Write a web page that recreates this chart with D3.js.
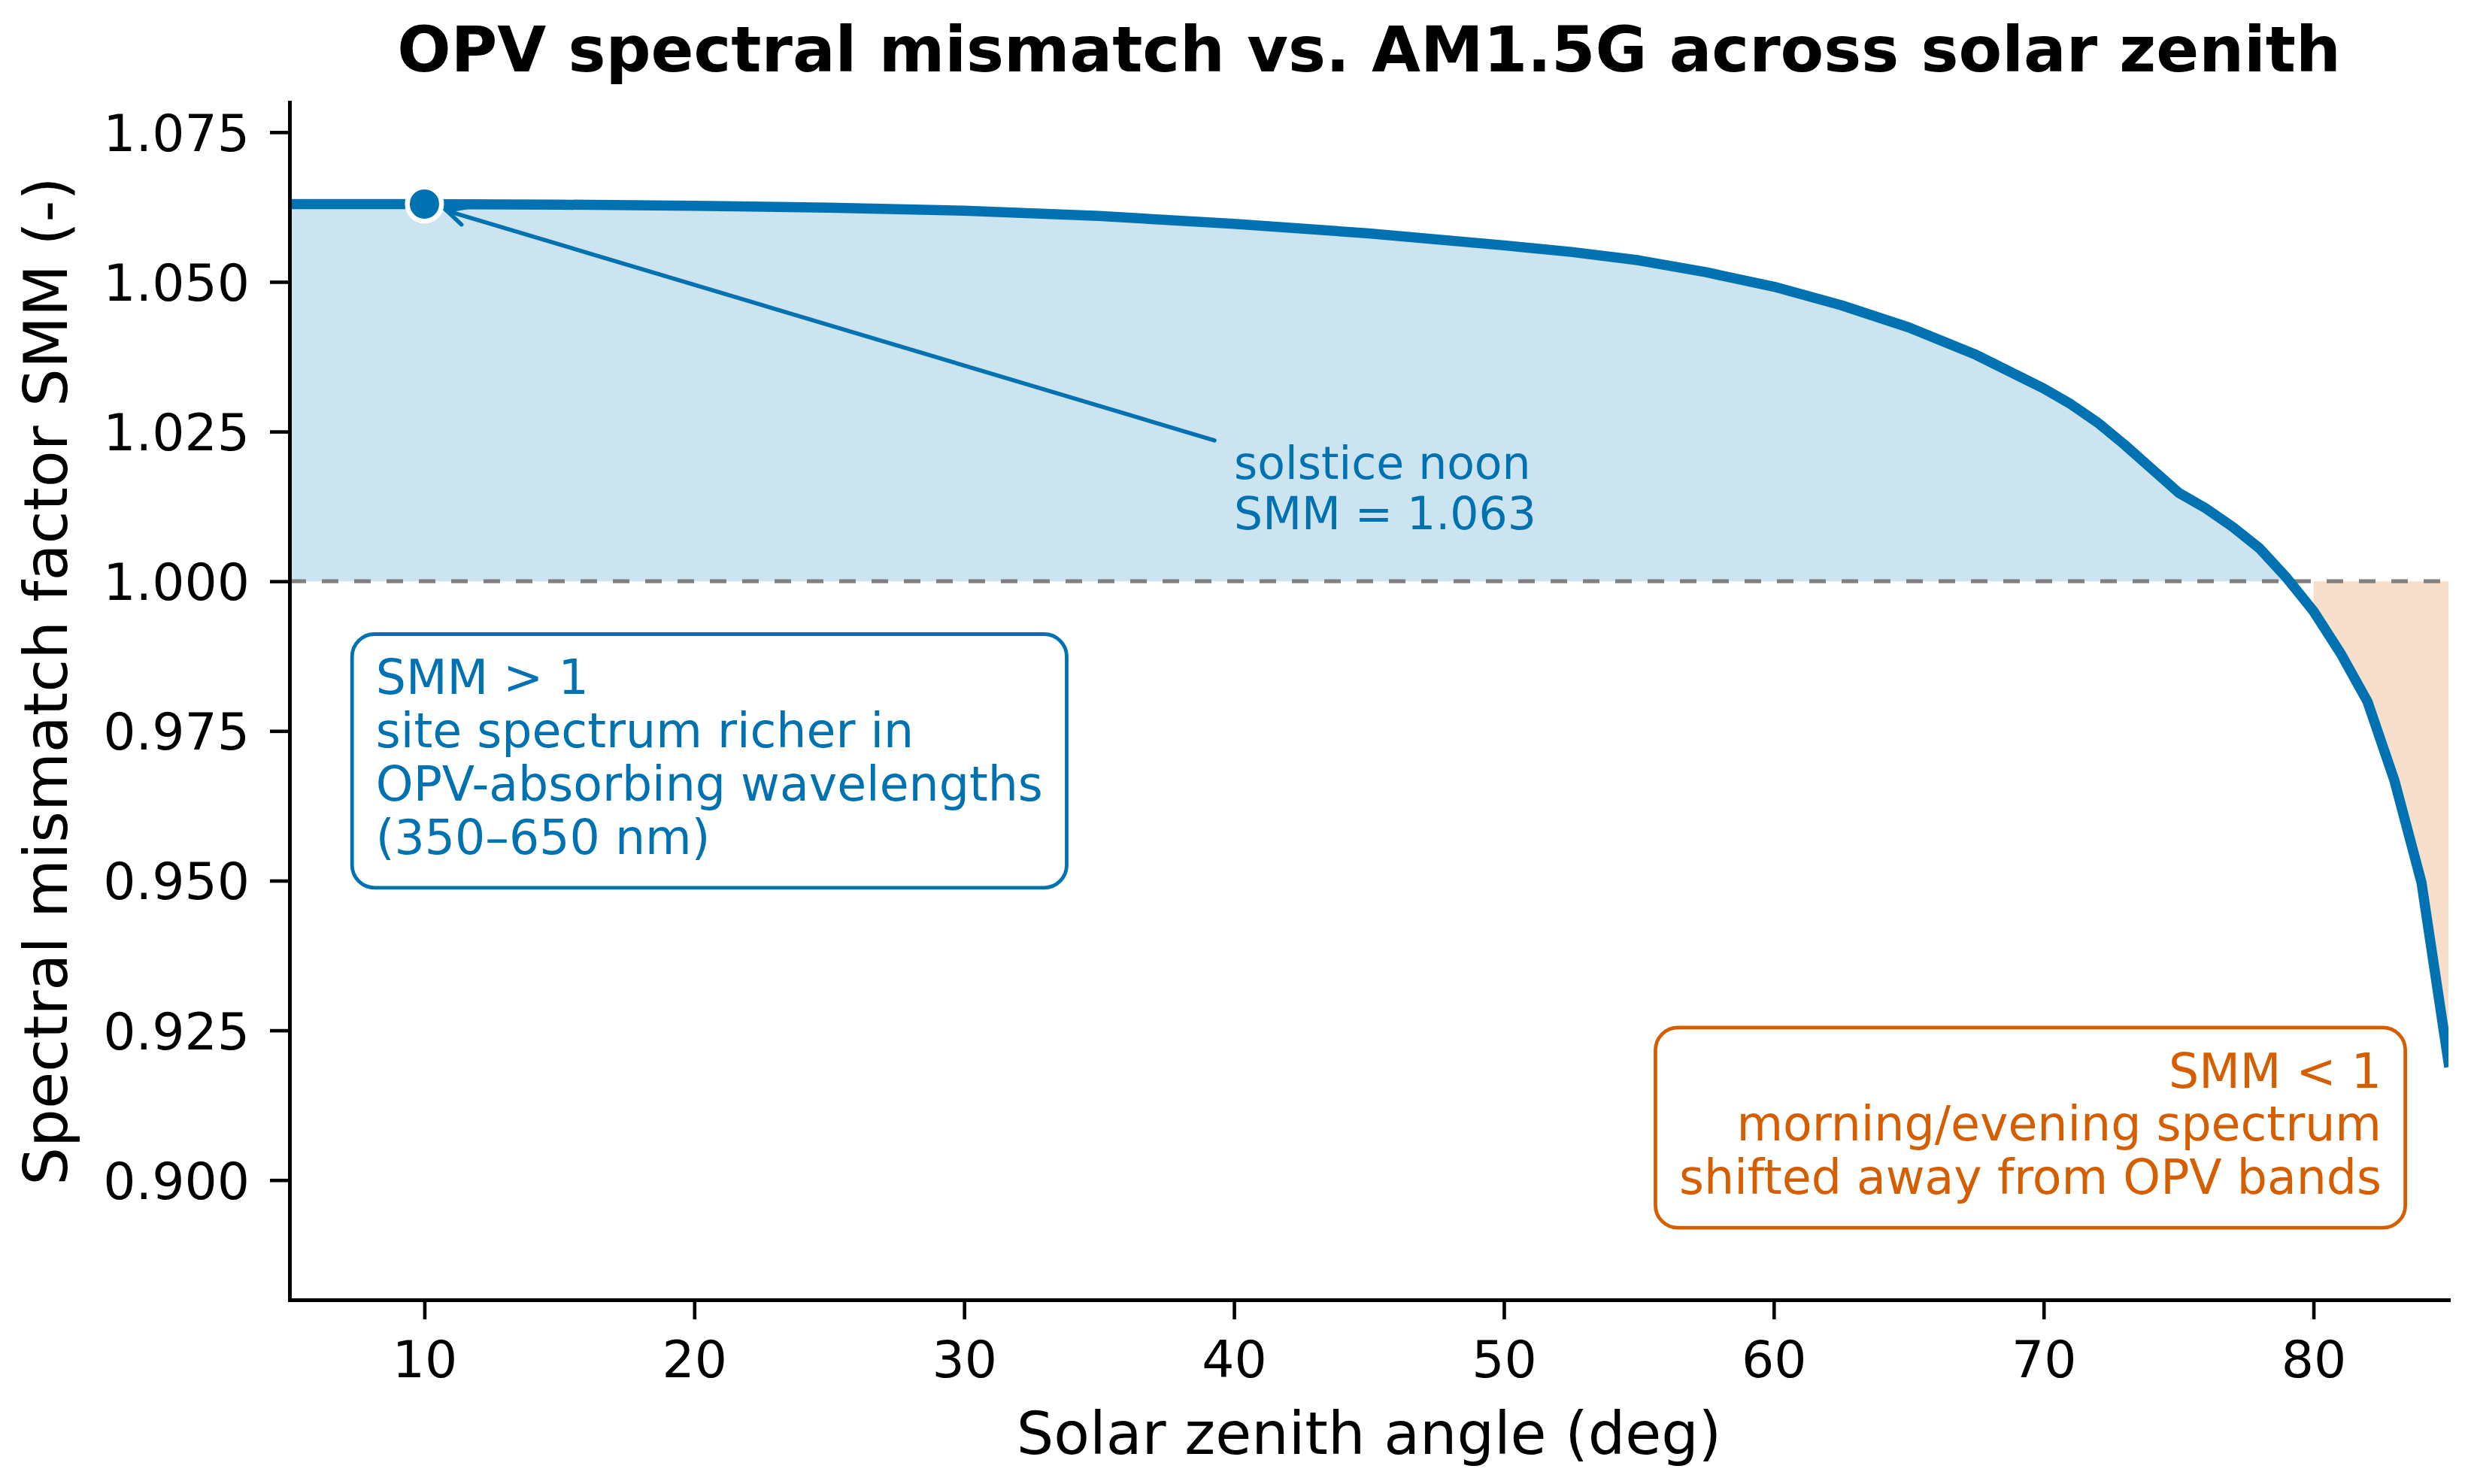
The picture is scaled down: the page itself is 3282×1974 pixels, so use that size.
<!DOCTYPE html>
<html><head><meta charset="utf-8">
<script src="https://cdn.jsdelivr.net/npm/d3@7"></script>
<style>
body{margin:0;background:#fff}
text{font-family:"DejaVu Sans",sans-serif}
</style>
</head><body>
<svg id="chart" width="3282" height="1974"></svg>
<script>
// ---- data ----
const zenith = [5, 10, 15, 20, 25, 30, 35, 40, 45, 50, 52.5, 55, 57.5, 60, 62.5, 65, 67.5, 70,
                71, 72, 73, 74, 75, 76, 77, 78, 79, 80, 81, 82, 83, 84, 85];
const smm = [1.0630, 1.0630, 1.0629, 1.0627, 1.0624, 1.0619, 1.0610, 1.0597, 1.0581, 1.0561, 1.0550,
             1.0536, 1.0516, 1.0492, 1.0461, 1.0424, 1.0378, 1.0322,
             1.0296, 1.0265, 1.0228, 1.0188, 1.0148, 1.0122, 1.0091, 1.0055, 1.0006,
             0.9950, 0.9880, 0.9799, 0.9667, 0.9497, 0.9197];
const xTicks = [10, 20, 30, 40, 50, 60, 70, 80];
const yTicks = [0.900, 0.925, 0.950, 0.975, 1.000, 1.025, 1.050, 1.075];
const xDomain = [5, 85];
const yDomain = [0.88, 1.08];
const reference = 1.0;
const highlightZenith = 10;
const highlightSmm = 1.063;
const titleText = "OPV spectral mismatch vs. AM1.5G across solar zenith";
const xLabelText = "Solar zenith angle (deg)";
const yLabelText = "Spectral mismatch factor SMM (-)";
const noteLines = ["solstice noon", "SMM = 1.063"];
const noteAt = [40, 1.015];
const highLines = ["SMM > 1", "site spectrum richer in", "OPV-absorbing wavelengths", "(350–650 nm)"];
const lowLines = ["SMM < 1", "morning/evening spectrum", "shifted away from OPV bands"];

// ---- styling ----
const BLUE = "#0072B2", ORANGE = "#D55E00";
const svg = d3.select("#chart");
const m = {left: 385, right: 3256, top: 136, bottom: 1729};
const x = d3.scaleLinear().domain(xDomain).range([m.left, m.right]);
const y = d3.scaleLinear().domain(yDomain).range([m.bottom, m.top]);
const data = zenith.map((z, i) => ({z, v: smm[i]}));

svg.append("defs").append("clipPath").attr("id", "plotclip")
  .append("rect").attr("x", m.left).attr("y", m.top)
  .attr("width", m.right - m.left).attr("height", m.bottom - m.top);

const plot = svg.append("g").attr("clip-path", "url(#plotclip)");

// fills
plot.append("path").datum(data)
  .attr("d", d3.area().defined(d => d.v >= reference)
    .x(d => x(d.z)).y0(y(reference)).y1(d => y(d.v)))
  .attr("fill", BLUE).attr("fill-opacity", 0.2);
plot.append("path").datum(data)
  .attr("d", d3.area().defined(d => d.v <= reference)
    .x(d => x(d.z)).y0(y(reference)).y1(d => y(d.v)))
  .attr("fill", ORANGE).attr("fill-opacity", 0.2);

// reference line
plot.append("line")
  .attr("x1", m.left).attr("x2", m.right)
  .attr("y1", y(reference)).attr("y2", y(reference))
  .attr("stroke", "#808080").attr("stroke-width", 5.2)
  .attr("stroke-dasharray", "22,21");

// main curve
plot.append("path").datum(data)
  .attr("d", d3.line().x(d => x(d.z)).y(d => y(d.v)))
  .attr("fill", "none").attr("stroke", BLUE).attr("stroke-width", 13.5)
  .attr("stroke-linejoin", "round").attr("stroke-linecap", "square");

// axes
const tickFont = 68;
const gx = svg.append("g").attr("transform", `translate(0,${m.bottom})`)
  .call(d3.axisBottom(x).tickValues(xTicks).tickFormat(d3.format("d"))
    .tickSize(26).tickSizeOuter(0).tickPadding(29));
const gy = svg.append("g").attr("transform", `translate(${m.left},0)`)
  .call(d3.axisLeft(y).tickValues(yTicks).tickFormat(d3.format(".3f"))
    .tickSize(26).tickSizeOuter(0).tickPadding(27));
[gx, gy].forEach(g => {
  g.select(".domain").attr("stroke", "#000").attr("stroke-width", 5).attr("stroke-linecap", "square");
  g.selectAll(".tick line").attr("stroke", "#000").attr("stroke-width", 4.6);
  g.selectAll(".tick text").attr("font-size", tickFont).attr("fill", "#000")
    .attr("font-family", "DejaVu Sans");
});
gy.selectAll(".tick text").attr("dy", "0.36em");

// title & labels
svg.append("text").attr("x", (m.left + m.right) / 2).attr("y", 95)
  .attr("text-anchor", "middle").attr("font-size", 84).attr("font-weight", "bold")
  .text(titleText);
svg.append("text").attr("x", (m.left + m.right) / 2).attr("y", 1934)
  .attr("text-anchor", "middle").attr("font-size", 78).text(xLabelText);
svg.append("text").attr("transform", `translate(89,906) rotate(-90)`)
  .attr("text-anchor", "middle").attr("font-size", 80).text(yLabelText);

// text block helper (matplotlib-like layout)
function textBlock(lines, o) {
  const fs = o.fs, lh = 1.12 * fs, asc = 0.76 * fs, desc = 0.208 * fs;
  const h = asc + lh * (lines.length - 1) + desc;
  const top = o.va === "center" ? o.y - h / 2 : o.va === "bottom" ? o.y - h : o.y;
  const g = svg.append("g");
  const t = g.append("text").attr("font-size", fs).attr("fill", o.color)
    .attr("text-anchor", o.ha === "right" ? "end" : "start");
  lines.forEach((s, i) => t.append("tspan").attr("x", o.x).attr("y", top + asc + i * lh).text(s));
  const w = d3.max(t.selectAll("tspan").nodes(), n => n.getComputedTextLength());
  const left = o.ha === "right" ? o.x - w : o.x;
  if (o.box) {
    const pad = 0.5 * fs;
    g.insert("rect", "text")
      .attr("x", left - pad).attr("y", top - pad)
      .attr("width", w + 2 * pad).attr("height", h + 2 * pad)
      .attr("rx", 30).attr("ry", 30)
      .attr("fill", "#fff").attr("stroke", o.color).attr("stroke-width", 4.8);
  }
  return {left, top, w, h};
}

// marker
const mx = x(highlightZenith), my = y(highlightSmm);
svg.append("circle").attr("cx", mx).attr("cy", my).attr("r", 22.75)
  .attr("fill", BLUE).attr("stroke", "#fff").attr("stroke-width", 6.5);

// annotation text + arrow
const nb = textBlock(noteLines, {x: x(noteAt[0]), y: y(noteAt[1]), va: "center", ha: "left", fs: 60, color: BLUE});
const cx = nb.left + nb.w / 2, cy = nb.top + nb.h / 2;
let dx = mx - cx, dy = my - cy;
const L = Math.hypot(dx, dy); dx /= L; dy /= L;
const tStart = (cx - (nb.left - 26)) / Math.abs(dx);
const sx = cx + dx * tStart, sy = cy + dy * tStart;
const ex = mx - dx * 31, ey = my - dy * 31;
const arrow = svg.append("g").attr("stroke", BLUE).attr("stroke-width", 5.5)
  .attr("fill", "none").attr("stroke-linecap", "round");
arrow.append("line").attr("x1", sx).attr("y1", sy).attr("x2", ex).attr("y2", ey);
const hl = 24, hw = 12, px = -dy, py = dx;
arrow.append("path").attr("d",
  `M${ex - dx * hl + px * hw},${ey - dy * hl + py * hw} L${ex},${ey} L${ex - dx * hl - px * hw},${ey - dy * hl - py * hw}`);

// explanation boxes
const axX = f => m.left + f * (m.right - m.left);
const axY = f => m.bottom - f * (m.bottom - m.top);
textBlock(highLines, {x: axX(0.04), y: axY(0.45), va: "center", ha: "left", fs: 63.3, color: BLUE, box: true});
textBlock(lowLines, {x: axX(0.969), y: axY(0.08), va: "bottom", ha: "right", fs: 63.3, color: ORANGE, box: true});
</script>
</body></html>
